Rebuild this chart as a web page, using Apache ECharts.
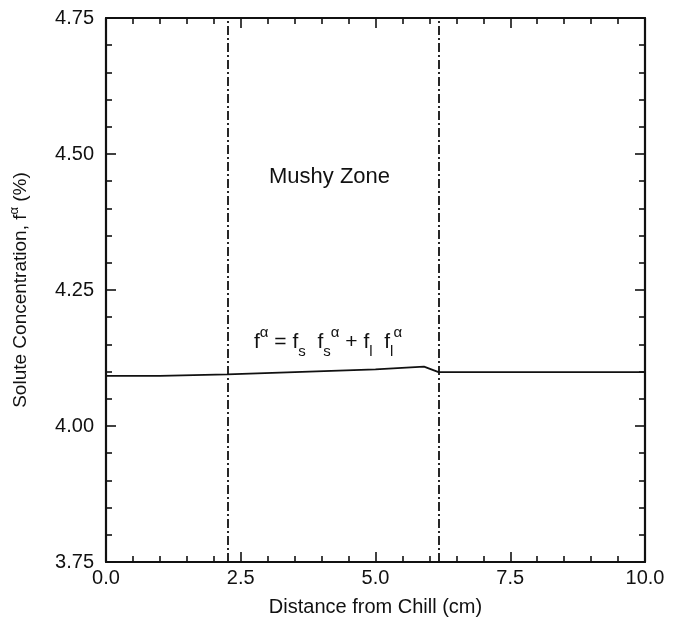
<!DOCTYPE html>
<html>
<head>
<meta charset="utf-8">
<script src="https://cdn.jsdelivr.net/npm/echarts@6/dist/echarts.min.js"></script>
<style>
  html, body { margin: 0; padding: 0; background: #fff; }
  #chart { width: 673px; height: 629px; }
</style>
</head>
<body>
<div id="chart"></div>
<script>
// distance from chill (cm) and solute concentration (%)
const distance = [0.0, 1.0, 2.25, 3.5, 5.0, 5.9, 6.17, 7.5, 10.0]
const concentration = [4.092, 4.092, 4.095, 4.099, 4.104, 4.109, 4.099, 4.099, 4.099]
// mushy zone boundaries
const zoneBounds = [2.25, 6.17]

const font = 'Liberation Sans, Arial, sans-serif'
let myChart = echarts.init(document.getElementById('chart'))

function xAxisOf(pos, showLabel) {
  return {
    type: 'value',
    position: pos,
    min: 0,
    max: 10,
    interval: 2.5,
    name: showLabel ? 'Distance from Chill (cm)' : '',
    nameLocation: 'middle',
    nameGap: 35,
    nameTextStyle: { fontFamily: font, fontSize: 20, color: '#111' },
    axisLine: { show: true, onZero: false, lineStyle: { color: '#111', width: 2.2 } },
    axisTick: { show: true, inside: true, length: 10, lineStyle: { color: '#111', width: 1.6 } },
    minorTick: { show: true, splitNumber: 5, length: 6, lineStyle: { color: '#111', width: 1.6 } },
    axisLabel: {
      show: showLabel,
      fontFamily: font,
      fontSize: 20,
      color: '#111',
      margin: 6,
      formatter: v => v.toFixed(1)
    },
    splitLine: { show: false }
  }
}

function yAxisOf(pos, showLabel) {
  return {
    type: 'value',
    position: pos,
    min: 3.75,
    max: 4.75,
    interval: 0.25,
    name: showLabel ? '{a|Solute Concentration, f}{s|α}{a| (%)}' : '',
    nameLocation: 'middle',
    nameGap: 72,
    nameTextStyle: {
      rich: {
        a: { fontFamily: font, fontSize: 19, color: '#111', lineHeight: 26 },
        s: { fontFamily: font, fontSize: 13, color: '#111', verticalAlign: 'top', lineHeight: 26 }
      }
    },
    axisLine: { show: true, onZero: false, lineStyle: { color: '#111', width: 2.2 } },
    axisTick: { show: true, inside: true, length: 10, lineStyle: { color: '#111', width: 1.6 } },
    minorTick: { show: true, splitNumber: 5, length: 6, lineStyle: { color: '#111', width: 1.6 } },
    axisLabel: {
      show: showLabel,
      fontFamily: font,
      fontSize: 20,
      color: '#111',
      margin: 12,
      formatter: v => v.toFixed(2)
    },
    splitLine: { show: false }
  }
}

myChart.setOption({
  animation: false,
  backgroundColor: '#fff',
  grid: {
    left: 105,
    right: 28,
    top: 18,
    bottom: 67
  },
  xAxis: [xAxisOf('bottom', true), xAxisOf('top', false)],
  yAxis: [yAxisOf('left', true), yAxisOf('right', false)],
  graphic: [
    {
      type: 'text',
      left: 269,
      top: 166,
      style: { text: 'Mushy Zone', fontFamily: font, fontSize: 22, fill: '#111' }
    },
    {
      type: 'text',
      left: 254,
      top: 325,
      style: {
        text: '{t|f}{p|α}{t| = f}{b|s}{t|  f}{b|s}{p|α}{t| + f}{b|l}{t|  f}{b|l}{p|α}',
        rich: {
          t: { fontFamily: font, fontSize: 21, fill: '#111', lineHeight: 34, verticalAlign: 'middle' },
          p: { fontFamily: font, fontSize: 15, fill: '#111', lineHeight: 34, verticalAlign: 'top' },
          b: { fontFamily: font, fontSize: 15, fill: '#111', lineHeight: 34, verticalAlign: 'bottom' }
        }
      }
    }
  ],
  series: [
    {
      type: 'line',
      data: distance.map((x, i) => [x, concentration[i]]),
      showSymbol: false,
      lineStyle: { color: '#111', width: 1.8 },
      markLine: {
        silent: true,
        symbol: 'none',
        label: { show: false },
        lineStyle: { color: '#111', width: 1.8, type: [9, 3, 2, 3] },
        data: zoneBounds.map(v => ({ xAxis: v }))
      }
    }
  ]
})

window.addEventListener('resize', () => {
  myChart.resize()
})
</script>
</body>
</html>
